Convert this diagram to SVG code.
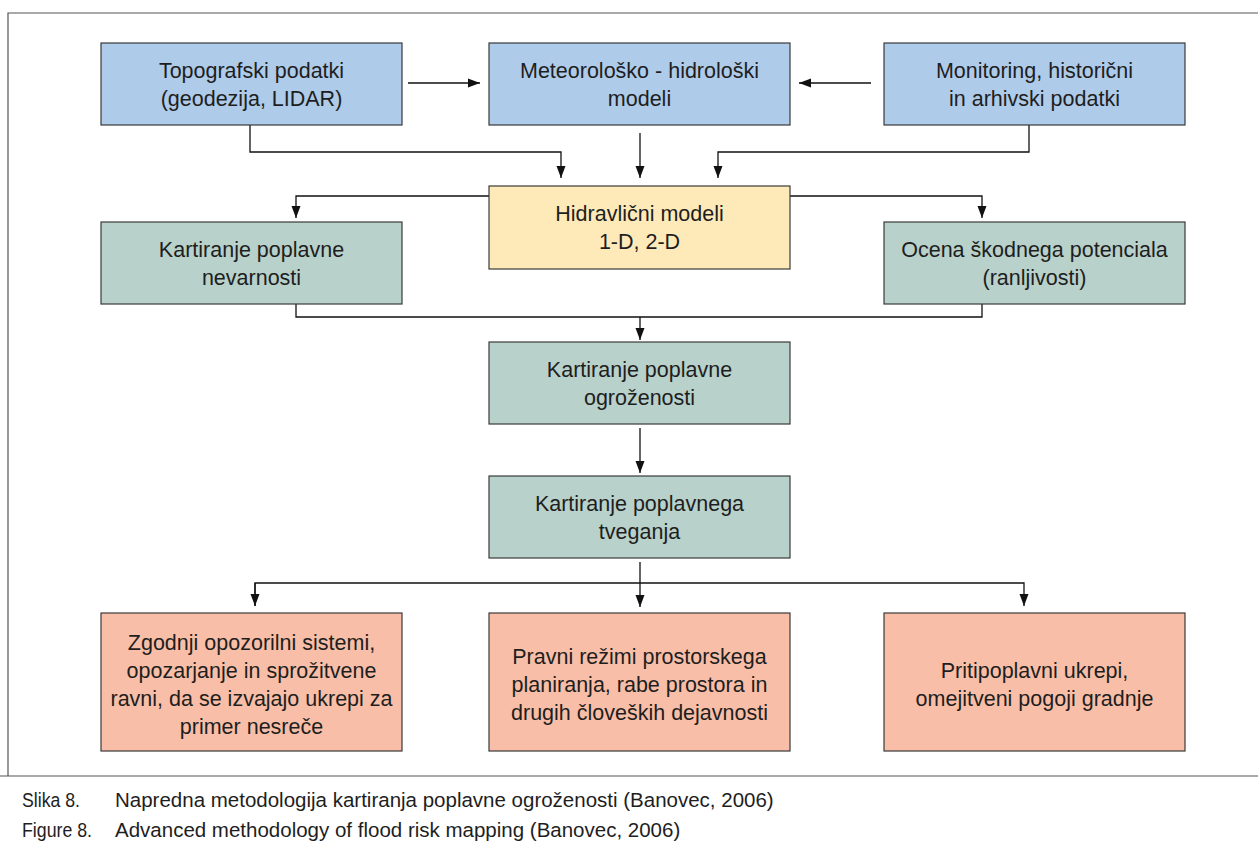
<svg xmlns="http://www.w3.org/2000/svg" width="1258" height="854" viewBox="0 0 1258 854">
<style>
.box{stroke:#3a3a3a;stroke-width:1.2}
.blue{fill:#aecbea}
.yellow{fill:#fdeab8}
.green{fill:#b8d1ca}
.salmon{fill:#f9bea7}
.t{font-family:"Liberation Sans",Arial,sans-serif;font-size:21.5px;fill:#1e1e1e;text-anchor:middle}
.cap{font-family:"Liberation Sans",Arial,sans-serif;font-size:20.5px;fill:#1e1e1e}
.c{fill:none;stroke:#111;stroke-width:1.3}
.frame{fill:none;stroke:#555;stroke-width:1.2}
</style>
<defs>
<marker id="ah" markerWidth="13" markerHeight="12" refX="12" refY="5.5" orient="auto" markerUnits="userSpaceOnUse">
<path d="M0,1 L12,5.5 L0,10 Z" fill="#111"/>
</marker>
</defs>
<rect width="1258" height="854" fill="#fff"/>
<g id="frame">
<path class="frame" d="M1258,13 H8 V776"/>
<path class="frame" d="M0,776 H1258"/>
</g>
<g id="connectors">
<path class="c" d="M408,83 H480" marker-end="url(#ah)"/>
<path class="c" d="M871,83 H799" marker-end="url(#ah)"/>
<path class="c" d="M250,125 V152 H561 V178" marker-end="url(#ah)"/>
<path class="c" d="M640,133 V178" marker-end="url(#ah)"/>
<path class="c" d="M1029,125 V152 H718 V178" marker-end="url(#ah)"/>
<path class="c" d="M489,196 H296 V218" marker-end="url(#ah)"/>
<path class="c" d="M790,196 H982 V218" marker-end="url(#ah)"/>
<path class="c" d="M296,304 V317 H982 V304"/>
<path class="c" d="M640,317 V340" marker-end="url(#ah)"/>
<path class="c" d="M640,428 V473" marker-end="url(#ah)"/>
<path class="c" d="M640,562 V607" marker-end="url(#ah)"/>
<path class="c" d="M255,606 V583 H1024 V606" marker-end="url(#ah)"/>
<path class="c" d="M255,583 V606" marker-end="url(#ah)"/>
</g>
<g id="n1"><rect class="box blue" x="101" y="43" width="301" height="82"/>
<text class="t" x="251.5" y="78">Topografski podatki</text><text class="t" x="251.5" y="106">(geodezija, LIDAR)</text></g>
<g id="n2"><rect class="box blue" x="489" y="43" width="301" height="82"/>
<text class="t" x="639.5" y="78">Meteorološko - hidrološki</text><text class="t" x="639.5" y="106">modeli</text></g>
<g id="n3"><rect class="box blue" x="884" y="43" width="301" height="82"/>
<text class="t" x="1034.5" y="78">Monitoring, historični</text><text class="t" x="1034.5" y="106">in arhivski podatki</text></g>
<g id="n4"><rect class="box yellow" x="489" y="186" width="301" height="83"/>
<text class="t" x="639.5" y="221">Hidravlični modeli</text><text class="t" x="639.5" y="249">1-D, 2-D</text></g>
<g id="n5"><rect class="box green" x="101" y="222" width="301" height="82"/>
<text class="t" x="251.5" y="257">Kartiranje poplavne</text><text class="t" x="251.5" y="285">nevarnosti</text></g>
<g id="n6"><rect class="box green" x="884" y="222" width="301" height="82"/>
<text class="t" x="1034.5" y="257">Ocena škodnega potenciala</text><text class="t" x="1034.5" y="285">(ranljivosti)</text></g>
<g id="n7"><rect class="box green" x="489" y="342" width="301" height="82"/>
<text class="t" x="639.5" y="377">Kartiranje poplavne</text><text class="t" x="639.5" y="405">ogroženosti</text></g>
<g id="n8"><rect class="box green" x="489" y="476" width="301" height="82"/>
<text class="t" x="639.5" y="511">Kartiranje poplavnega</text><text class="t" x="639.5" y="539">tveganja</text></g>
<g id="n9"><rect class="box salmon" x="101" y="613" width="301" height="138"/>
<text class="t" x="251.5" y="650">Zgodnji opozorilni sistemi,</text><text class="t" x="251.5" y="678">opozarjanje in sprožitvene</text><text class="t" x="251.5" y="706">ravni, da se izvajajo ukrepi za</text><text class="t" x="251.5" y="734">primer nesreče</text></g>
<g id="n10"><rect class="box salmon" x="489" y="613" width="301" height="138"/>
<text class="t" x="639.5" y="664">Pravni režimi prostorskega</text><text class="t" x="639.5" y="692">planiranja, rabe prostora in</text><text class="t" x="639.5" y="720">drugih človeških dejavnosti</text></g>
<g id="n11"><rect class="box salmon" x="884" y="613" width="301" height="138"/>
<text class="t" x="1034.5" y="678">Pritipoplavni ukrepi,</text><text class="t" x="1034.5" y="706">omejitveni pogoji gradnje</text></g>
<g id="caption">
<text class="cap" x="22" y="807" textLength="58" lengthAdjust="spacingAndGlyphs">Slika 8.</text><text class="cap" x="115" y="807">Napredna metodologija kartiranja poplavne ogroženosti (Banovec, 2006)</text>
<text class="cap" x="22" y="837" textLength="70" lengthAdjust="spacingAndGlyphs">Figure 8.</text><text class="cap" x="115" y="837">Advanced methodology of flood risk mapping (Banovec, 2006)</text>
</g>
</svg>
